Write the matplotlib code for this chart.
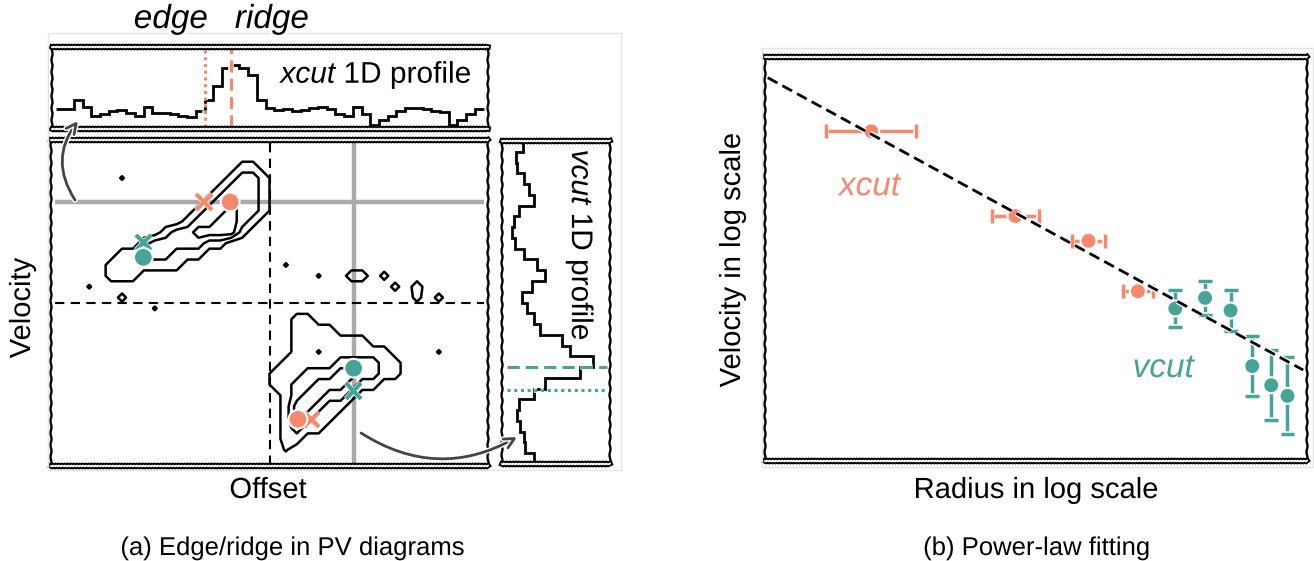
import numpy as np
import matplotlib
matplotlib.use('Agg')
import matplotlib.pyplot as plt
from matplotlib import patheffects
from matplotlib.patches import FancyArrowPatch, Rectangle

W, H = 1314, 561

SALMON = '#f6886e'
TEAL = '#45a497'
GREY = '#aaaaaa'
ARROW = '#444444'

# PV diagram intensity map: one string per velocity channel, one char per offset pixel
pv_rows = [
    "",
    "",
    "                 11",
    "      .         1221",
    "               12221",
    "              123221",
    "             1223221",
    "            1223321",
    "          12233331",
    "        12222211",
    "      11222111",
    "     1111111         .",
    "     111                .  11 o",
    "   .                           o 1",
    "      o                          o o",
    "         .",
    "                      11",
    "                      1111",
    "                      1111111",
    "                      11a111111    .",
    "                     11111222211",
    "                    111222332211",
    "                    1122333211",
    "                     1233221",
    "                     133211",
    "                     13211",
    "                     1211",
    "                     11",
    "                     .",
    "",
]
pv_levels = {' ': 0, '.': 0.6, 'o': 0.8, '1': 1, 'a': 1.6, '2': 2, '3': 3}
pv_centre = (20, 15)

# cut positions (offset column / velocity row)
xcut_row = 5.7
vcut_col = 27.7
xcut_edge, xcut_ridge = 14.0, 16.4
vcut_ridge, vcut_edge = 21.0, 23.1
# same measurements on the opposite lobe
xcut_edge2, xcut_ridge2, xcut_row2 = 23.85, 22.6, 25.7
vcut_col2, vcut_edge2, vcut_ridge2 = 8.45, 9.4, 10.8

# 1D profiles along the cuts
xcut_profile = [75, 75, 100, 80, 55, 60, 70, 72, 65, 55,
                80, 65, 65, 60, 55, 52, 70, 100, 140, 190,
                200, 192, 172, 100, 78, 72, 75, 70, 72, 78,
                82, 75, 62, 55, 80, 60, 30, 45, 55, 70,
                78, 78, 75, 70, 68, 30, 45, 60, 75]
vcut_profile = [68, 48, 50, 70, 85, 100, 55, 40, 35, 45,
                70, 110, 135, 95, 65, 80, 100, 120, 185, 210,
                280, 240, 135, 100, 55, 50, 60, 70, 75, 100]

# power-law fitting (log radius, log velocity)
xcut_r = [1.96, 4.62, 5.97, 6.88]
xcut_v = [6.53, 4.85, 4.36, 3.36]
xcut_rerr = [0.83, 0.43, 0.31, 0.27]
vcut_r = [7.57, 8.12, 8.59, 8.99, 9.34, 9.64]
vcut_v = [3.02, 3.23, 2.98, 1.88, 1.50, 1.29]
vcut_verr = [0.37, 0.33, 0.41, 0.60, 0.69, 0.76]
fit_slope, fit_intercept = -0.586, 7.62
fit_range = [0.05, 9.93]

plt.rcParams['font.family'] = ['Liberation Sans', 'DejaVu Sans']
plt.rcParams['mathtext.fontset'] = 'custom'
plt.rcParams['mathtext.rm'] = 'Liberation Sans'
plt.rcParams['mathtext.it'] = 'Liberation Sans:italic'
plt.rcParams['path.effects'] = [patheffects.withStroke(linewidth=4, foreground='w')]

fig = plt.figure(figsize=(W / 100, H / 100), dpi=100)


def px_axes(left, top, right, bottom):
    a = fig.add_axes([left / W, 1 - bottom / H, (right - left) / W, (bottom - top) / H])
    a.set_xticks([])
    a.set_yticks([])
    # rope-like top/bottom edges, plain wavy sides
    for name in ('top', 'bottom'):
        sp = a.spines[name]
        sp.set_color('w')
        sp.set_linewidth(1.3)
        sp.set_path_effects([patheffects.withStroke(linewidth=4.0, foreground='k')])
        sp.set_sketch_params(0.45, 3, 1)
    for name in ('left', 'right'):
        sp = a.spines[name]
        sp.set_linewidth(1.7)
        sp.set_path_effects([])
        sp.set_sketch_params(0.5, 12, 1)
    return a


def fpos(x, y):
    return (x / W, 1 - y / H)


# faint borders of the two sub-figures
fig.add_artist(Rectangle(fpos(48, 470), 573 / W, 437 / H, transform=fig.transFigure,
                         fill=False, ec='#e4e4e4', lw=1, path_effects=[]))
fig.add_artist(Rectangle(fpos(762, 467), 551 / W, 419 / H, transform=fig.transFigure,
                         fill=False, ec='#e4e4e4', lw=1, path_effects=[]))

# ---- PV diagram ----
ax = px_axes(51, 140, 488, 466)
Z = np.array([[pv_levels[ch] for ch in row.ljust(40)] for row in pv_rows])
cols = np.arange(Z.shape[1]) + 0.5
rows = np.arange(Z.shape[0]) + 0.5
ax.contour(cols, rows, Z, levels=[0.5, 1.5, 2.5], colors='k', linewidths=1.8)
ax.hlines(xcut_row, 0.4, 39.6, color=GREY, lw=3.2, zorder=1)
ax.vlines(vcut_col, 0.2, 29.8, color=GREY, lw=3.2, zorder=1)
ax.hlines(pv_centre[1], 0.4, 39.6, color='k', lw=1.5, ls=(0, (4.5, 3)), zorder=2)
ax.vlines(pv_centre[0], 0.3, 29.8, color='k', lw=1.5, ls=(0, (4.5, 3)), zorder=2)
ax.plot([xcut_edge, xcut_edge2], [xcut_row, xcut_row2], 'x', color=SALMON, ms=11, mew=3, zorder=4)
ax.plot([xcut_ridge, xcut_ridge2], [xcut_row, xcut_row2], 'o', color=SALMON, ms=11, zorder=4)
ax.plot([vcut_col, vcut_col2], [vcut_edge, vcut_edge2], 'x', color=TEAL, ms=11, mew=3, zorder=4)
ax.plot([vcut_col, vcut_col2], [vcut_ridge, vcut_ridge2], 'o', color=TEAL, ms=11, zorder=4)
ax.set_xlim(0, 40)
ax.set_ylim(30, 0)

# ---- xcut profile ----
tx = px_axes(52, 47, 488, 129)
tx.stairs(xcut_profile, np.linspace(0.4, 39.6, len(xcut_profile) + 1), baseline=None,
          color='k', lw=2)
tx.axvline(xcut_edge, ymin=0.03, ymax=0.97, color=SALMON, lw=2.2, ls=(0, (1, 1.2)))
tx.axvline(xcut_ridge, ymin=0.03, ymax=0.97, color=SALMON, lw=2.2, ls=(0, (4, 2)))
tx.text(0.966, 0.66, r'$\mathit{xcut}$ 1D profile', transform=tx.transAxes,
        ha='right', va='center', fontsize=21.5)
tx.set_xlim(0, 40)
tx.set_ylim(19, 250)

# ---- vcut profile ----
vx = px_axes(502, 141, 610, 464)
vx.stairs(vcut_profile, np.arange(len(vcut_profile) + 1), orientation='horizontal',
          baseline=None, color='k', lw=2)
vx.axhline(vcut_ridge, xmin=0.05, xmax=0.97, color=TEAL, lw=2.2, ls=(0, (4, 2)))
vx.axhline(vcut_edge, xmin=0.05, xmax=0.97, color=TEAL, lw=2.2, ls=(0, (1, 1.2)))
vx.text(0.72, 0.677, r'$\mathit{vcut}$ 1D profile', transform=vx.transAxes,
        ha='center', va='center', rotation=270, fontsize=21.5)
vx.set_xlim(5, 330)
vx.set_ylim(30, 0)

fig.text(*fpos(171, 28), 'edge', ha='center', va='baseline', fontsize=24, style='italic')
fig.text(*fpos(272, 28), 'ridge', ha='center', va='baseline', fontsize=24, style='italic')
fig.text(*fpos(22, 308), 'Velocity', ha='center', va='center', rotation=90, fontsize=21)
fig.text(*fpos(268, 490), 'Offset', ha='center', va='center', fontsize=21)
fig.text(*fpos(293, 548), '(a) Edge/ridge in PV diagrams', ha='center', va='center', fontsize=18.5)

# arrows from the cuts to their profiles
for a_pos, b_pos, rad in [((75, 200), (78, 121), -0.35), ((361, 433), (517, 437), 0.3)]:
    fig.add_artist(FancyArrowPatch(fpos(*a_pos), fpos(*b_pos), transform=fig.transFigure,
                                   connectionstyle=f'arc3,rad={rad}', arrowstyle='->',
                                   mutation_scale=18, lw=2, color=ARROW,
                                   shrinkA=0, shrinkB=0))

# ---- power-law fitting ----
bx = px_axes(765, 57, 1307, 461)
bx.errorbar(xcut_r, xcut_v, xerr=xcut_rerr, fmt='o', color=SALMON, ms=9,
            elinewidth=2.5, capsize=5, capthick=2.5, zorder=2)
bx.errorbar(vcut_r, vcut_v, yerr=vcut_verr, fmt='o', color=TEAL, ms=9,
            elinewidth=2.5, capsize=5, capthick=2.5, zorder=2)
fit_r = np.array(fit_range)
bx.plot(fit_r, fit_intercept + fit_slope * fit_r, color='k', lw=2, ls=(0, (4, 2)), zorder=3)
bx.text(1.93, 5.43, 'xcut', color=SALMON, fontsize=24, style='italic', ha='center', va='center')
bx.text(7.35, 1.83, 'vcut', color=TEAL, fontsize=24, style='italic', ha='center', va='center')
bx.set_xlim(0, 10)
bx.set_ylim(0, 8)

fig.text(*fpos(732, 260), 'Velocity in log scale', ha='center', va='center', rotation=90, fontsize=21)
fig.text(*fpos(1036, 490), 'Radius in log scale', ha='center', va='center', fontsize=21)
fig.text(*fpos(1037, 548), '(b) Power-law fitting', ha='center', va='center', fontsize=18.5)

fig.savefig('out.png', dpi=100)
